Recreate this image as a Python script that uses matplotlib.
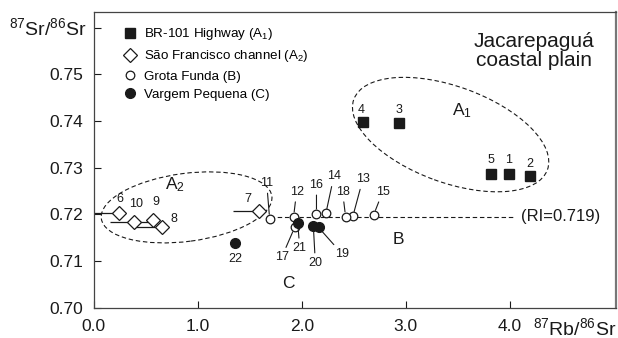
import matplotlib
matplotlib.use("Agg")
import matplotlib.pyplot as plt
import matplotlib.transforms as mtransforms
from matplotlib.lines import Line2D
from matplotlib.patches import Ellipse

plt.rcParams["font.family"] = ["Liberation Sans", "DejaVu Sans"]
plt.rcParams["mathtext.fontset"] = "custom"
plt.rcParams["mathtext.rm"] = "Liberation Sans"
plt.rcParams["mathtext.default"] = "regular"

# --- data (87Rb/86Sr, 87Sr/86Sr) ---
a1_ids = ["1", "2", "3", "4", "5"]
a1_rb = [3.99, 4.19, 2.93, 2.59, 3.82]
a1_sr = [0.7286, 0.7282, 0.7395, 0.7397, 0.7286]

a2_ids = ["6", "7", "8", "9", "10"]
a2_rb = [0.24, 1.59, 0.65, 0.57, 0.39]
a2_sr = [0.7202, 0.7207, 0.7172, 0.7188, 0.7183]
a2_err_left = [0.24, 0.25, 0.26, 0.0, 0.24]
a2_err_right = [0.0, 0.0, 0.0, 0.0, 0.16]

b_ids = ["11", "12", "13", "14", "15", "16", "17", "18"]
b_rb = [1.69, 1.92, 2.49, 2.23, 2.69, 2.14, 1.93, 2.42]
b_sr = [0.7190, 0.7195, 0.7196, 0.7202, 0.7199, 0.7201, 0.7172, 0.7195]

c_ids = ["19", "20", "21", "22"]
c_rb = [2.16, 2.11, 1.96, 1.36]
c_sr = [0.7172, 0.7175, 0.7181, 0.7139]

ri_value = 0.7195
ri_rb = [1.69, 4.03]

legend_labels = [
    "BR-101 Highway (A$_1$)",
    "São Francisco channel (A$_2$)",
    "Grota Funda (B)",
    "Vargem Pequena (C)",
]
yticks = [0.70, 0.71, 0.72, 0.73, 0.74, 0.75, 0.76]
ytick_labels = ["0.70", "0.71", "0.72", "0.73", "0.74", "0.75", ""]
xticks = [0, 1, 2, 3, 4]
xtick_labels = ["0.0", "1.0", "2.0", "3.0", "4.0"]

# label offsets in pixels (dx, dy, leader line)
label_offsets = {
    "1": (0, 14, False), "2": (0, 12, False), "3": (0, 13, False),
    "4": (-2, 12, False), "5": (0, 14, False),
    "6": (1, 14, False), "7": (-11, 12, False), "8": (12, 8, False),
    "9": (3, 18, False), "10": (2, 18, False),
    "11": (-3, 36, True), "12": (3, 25, True), "13": (10, 37, True),
    "14": (8, 37, True), "15": (9, 23, True), "16": (0, 29, True),
    "17": (-13, -30, True), "18": (-3, 25, True),
    "19": (24, -27, True), "20": (2, -37, True), "21": (2, -25, True),
    "22": (0, -16, False),
}

ink = "#1a1a1a"
fig = plt.figure(figsize=(6.18, 3.38), dpi=100)
ax = fig.add_axes([0.152, 0.0896, 0.8447, 0.874])
ax.set_xlim(0, 5.02)
ax.set_ylim(0.70, 0.7633)

# dashed group outlines (sizes in inches, centred on data points)
for cx, cy, w, h, ang in [(3.43, 0.7371, 2.06, 0.96, -20), (0.891, 0.7215, 1.72, 0.68, 7.5)]:
    tr = fig.dpi_scale_trans + mtransforms.ScaledTranslation(cx, cy, ax.transData)
    ax.add_patch(Ellipse((0, 0), w, h, angle=ang, transform=tr, fill=False,
                         ec=ink, lw=0.8, ls=(0, (4, 2.5))))

ax.plot(ri_rb, [ri_value, ri_value], color=ink, lw=0.8, ls=(0, (4, 2.5)), zorder=1)

ax.errorbar(a2_rb, a2_sr, xerr=[a2_err_left, a2_err_right], fmt="none",
            ecolor=ink, elinewidth=0.9, capsize=0, zorder=2)

ax.plot(a1_rb, a1_sr, "s", ms=7, color=ink, ls="none", zorder=3)
ax.plot(a2_rb, a2_sr, "D", ms=7.5, mfc="white", mec=ink, mew=0.9, ls="none", zorder=3)
ax.plot(b_rb, b_sr, "o", ms=6.2, mfc="white", mec=ink, mew=0.9, ls="none", zorder=3)
ax.plot(c_rb, c_sr, "o", ms=7, color=ink, ls="none", zorder=4)

for ids, xs, ys in [(a1_ids, a1_rb, a1_sr), (a2_ids, a2_rb, a2_sr),
                    (b_ids, b_rb, b_sr), (c_ids, c_rb, c_sr)]:
    for lab, x, y in zip(ids, xs, ys):
        dx, dy, leader = label_offsets[lab]
        arrow = dict(arrowstyle="-", lw=0.8, color=ink, shrinkA=1, shrinkB=3.5) if leader else None
        ax.annotate(lab, (x, y), xytext=(dx, dy), textcoords="offset pixels",
                    ha="center", va="center", fontsize=9, color=ink,
                    arrowprops=arrow, zorder=5)

ax.text(3.535, 0.7423, "A$_1$", fontsize=12.5, ha="center", va="center", color=ink)
ax.text(0.78, 0.7263, "A$_2$", fontsize=12.5, ha="center", va="center", color=ink)
ax.text(2.923, 0.7147, "B", fontsize=12.5, ha="center", va="center", color=ink)
ax.text(1.865, 0.7051, "C", fontsize=12.5, ha="center", va="center", color=ink)
ax.text(4.11, ri_value, "(RI=0.719)", fontsize=12, ha="left", va="center", color=ink)
ax.text(0.843, 0.935, "Jacarepaguá\ncoastal plain", transform=ax.transAxes,
        fontsize=15, ha="center", va="top", linespacing=1.0, color=ink)

handles = [
    Line2D([], [], marker="s", ms=7, color=ink, ls="none"),
    Line2D([], [], marker="D", ms=7.5, mfc="white", mec=ink, mew=0.9, ls="none"),
    Line2D([], [], marker="o", ms=6.2, mfc="white", mec=ink, mew=0.9, ls="none"),
    Line2D([], [], marker="o", ms=7, color=ink, ls="none"),
]
ax.legend(handles, legend_labels, loc="upper left", bbox_to_anchor=(0.057, 0.952),
          frameon=False, fontsize=9.6, handlelength=1.0, handletextpad=0.55,
          labelspacing=0.45, borderaxespad=0, borderpad=0)

ax.set_xticks(xticks)
ax.set_xticklabels(xtick_labels)
ax.set_yticks(yticks)
ax.set_yticklabels(ytick_labels)
ax.tick_params(direction="in", length=5, width=0.8, labelsize=12.5, colors=ink, pad=8)
for sp in ax.spines.values():
    sp.set_color("#444444")
    sp.set_linewidth(0.9)
ax.spines["right"].set_linewidth(1.6)
ax.spines["right"].set_color("#777777")

fig.text(0.015, 0.896, r"$^{87}$Sr/$^{86}$Sr", fontsize=14, ha="left", va="baseline", color=ink)
fig.text(0.8625, 0.008, r"$^{87}$Rb/$^{86}$Sr", fontsize=14, ha="left", va="baseline", color=ink)

fig.savefig("out.png", dpi=100)
